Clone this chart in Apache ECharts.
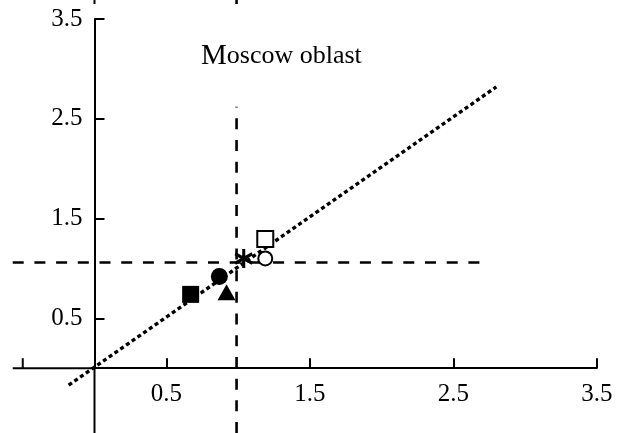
<!DOCTYPE html>
<html>
<head>
<meta charset="utf-8">
<script src="https://cdn.jsdelivr.net/npm/echarts@6/dist/echarts.min.js"></script>
<style>
html,body{margin:0;padding:0;background:#fff;}
#chart{width:617px;height:433px;}
</style>
</head>
<body>
<div id="chart"></div>
<script>
// ---- data ----
const xTickValues = [0.5, 1.5, 2.5, 3.5];
const xNegativeTick = -0.5;
const xLabelValues = [0.5, 1.5, 2.5, 3.5];
const yTickValues = [0.5, 1.5, 2.5, 3.5];
const yLabelValues = [0.5, 1.5, 2.5, 3.5];
const xAxisStart = -0.57;
const yAxisStart = -0.65;

const fitLine = [[-0.18, -0.17], [2.80, 2.82]];
const refHorizontal = [[-0.57, 1.06], [2.72, 1.06]];
const refVertical = [[0.99, -0.65], [0.99, 2.62]];
const refVerticalTop = [[0.99, 3.65], [0.99, 3.69]];
const yAxisTop = [[0, 3.65], [0, 3.69]];

const filledSquare = [[0.67, 0.74]];
const filledCircle = [[0.87, 0.92]];
const filledTriangle = [[0.92, 0.76]];
const asterisk = [[1.04, 1.10]];
const openCircle = [[1.19, 1.10]];
const openSquare = [[1.19, 1.295]];

const titleText = 'Moscow oblast';

// ---- chart ----
const chart = echarts.init(document.getElementById('chart'), null, {renderer: 'canvas'});
const FONT = 'Liberation Serif';
const AX = '#000';
const fmt = v => Number(v).toFixed(1);

// axis extensions into the negative range (axes cross at the origin)
const xAxisNeg = [[xAxisStart, 0], [0, 0]];
const yAxisNeg = [[0, yAxisStart], [0, 0]];
const xNegTickLine = [[xNegativeTick, 0], [xNegativeTick, 0.1]];

// segment series drawn through the chart's own coordinate system
function segmentSeries(seg, width, dash) {
  return {
    type: 'custom',
    silent: true,
    clip: false,
    data: [[seg[0][0], seg[0][1], seg[1][0], seg[1][1]]],
    encode: {x: [0, 2], y: [1, 3]},
    renderItem: function (params, api) {
      const p1 = api.coord([api.value(0), api.value(1)]);
      const p2 = api.coord([api.value(2), api.value(3)]);
      return {
        type: 'line',
        shape: {x1: p1[0], y1: p1[1], x2: p2[0], y2: p2[1]},
        style: {stroke: '#000', lineWidth: width, lineDash: dash || null, fill: null}
      };
    }
  };
}

const option = {
  backgroundColor: '#fff',
  animation: false,
  title: {
    text: '{m|' + titleText.charAt(0) + '}{r|' + titleText.slice(1) + '}',
    left: 196,
    top: 37,
    textStyle: {
      fontWeight: 'normal',
      rich: {
        m: {fontFamily: FONT, fontSize: 29, fontWeight: 'normal', color: '#000'},
        r: {fontFamily: FONT, fontSize: 26, fontWeight: 'normal', color: '#000'}
      }
    }
  },
  grid: {left: 94.5, right: 20.25, top: 19, bottom: 64.8, containLabel: false, outerBoundsMode: 'none'},
  xAxis: {
    type: 'value',
    min: 0,
    max: 3.5,
    splitLine: {show: false},
    axisLine: {onZero: false, lineStyle: {color: AX, width: 2}},
    axisTick: {show: true, inside: true, length: 10, lineStyle: {color: AX, width: 2}, customValues: xTickValues},
    axisLabel: {show: true, customValues: xLabelValues, fontFamily: FONT, fontSize: 25, color: '#000', margin: 14,
      formatter: fmt}
  },
  yAxis: {
    type: 'value',
    min: 0,
    max: 3.5,
    splitLine: {show: false},
    axisLine: {onZero: false, lineStyle: {color: AX, width: 2}},
    axisTick: {show: true, inside: true, length: 10, lineStyle: {color: AX, width: 2}, customValues: yTickValues},
    axisLabel: {show: true, customValues: yLabelValues, fontFamily: FONT, fontSize: 25, color: '#000', margin: 12,
      formatter: fmt}
  },
  series: [
    segmentSeries(xAxisNeg, 2),
    segmentSeries(yAxisNeg, 2),
    segmentSeries(xNegTickLine, 2),
    segmentSeries(refHorizontal, 2.6, [11, 10.7]),
    segmentSeries(refVertical, 2.6, [11, 10.7]),
    segmentSeries(refVerticalTop, 2.6),
    segmentSeries(yAxisTop, 2),
    segmentSeries(fitLine, 3.4, [4, 3]),
    {type: 'scatter', data: filledSquare, symbol: 'rect', symbolSize: 17,
      itemStyle: {color: '#000', opacity: 1}},
    {type: 'scatter', data: filledCircle, symbol: 'circle', symbolSize: 17,
      itemStyle: {color: '#000', opacity: 1}},
    {type: 'scatter', data: filledTriangle, symbol: 'triangle', symbolSize: [18, 16],
      itemStyle: {color: '#000', opacity: 1}},
    {type: 'scatter', data: asterisk,
      symbol: 'path://M0,-10L0,10M-8.66,-5L8.66,5M-8.66,5L8.66,-5', symbolSize: [17, 19],
      itemStyle: {color: 'rgba(0,0,0,0)', borderColor: '#000', borderWidth: 3.2, opacity: 1}},
    {type: 'scatter', data: openCircle, symbol: 'circle', symbolSize: 14,
      itemStyle: {color: '#fff', borderColor: '#000', borderWidth: 2, opacity: 1}},
    {type: 'scatter', data: openSquare, symbol: 'rect', symbolSize: 16,
      itemStyle: {color: '#fff', borderColor: '#000', borderWidth: 2, opacity: 1}}
  ]
};
chart.setOption(option);
</script>
</body>
</html>
